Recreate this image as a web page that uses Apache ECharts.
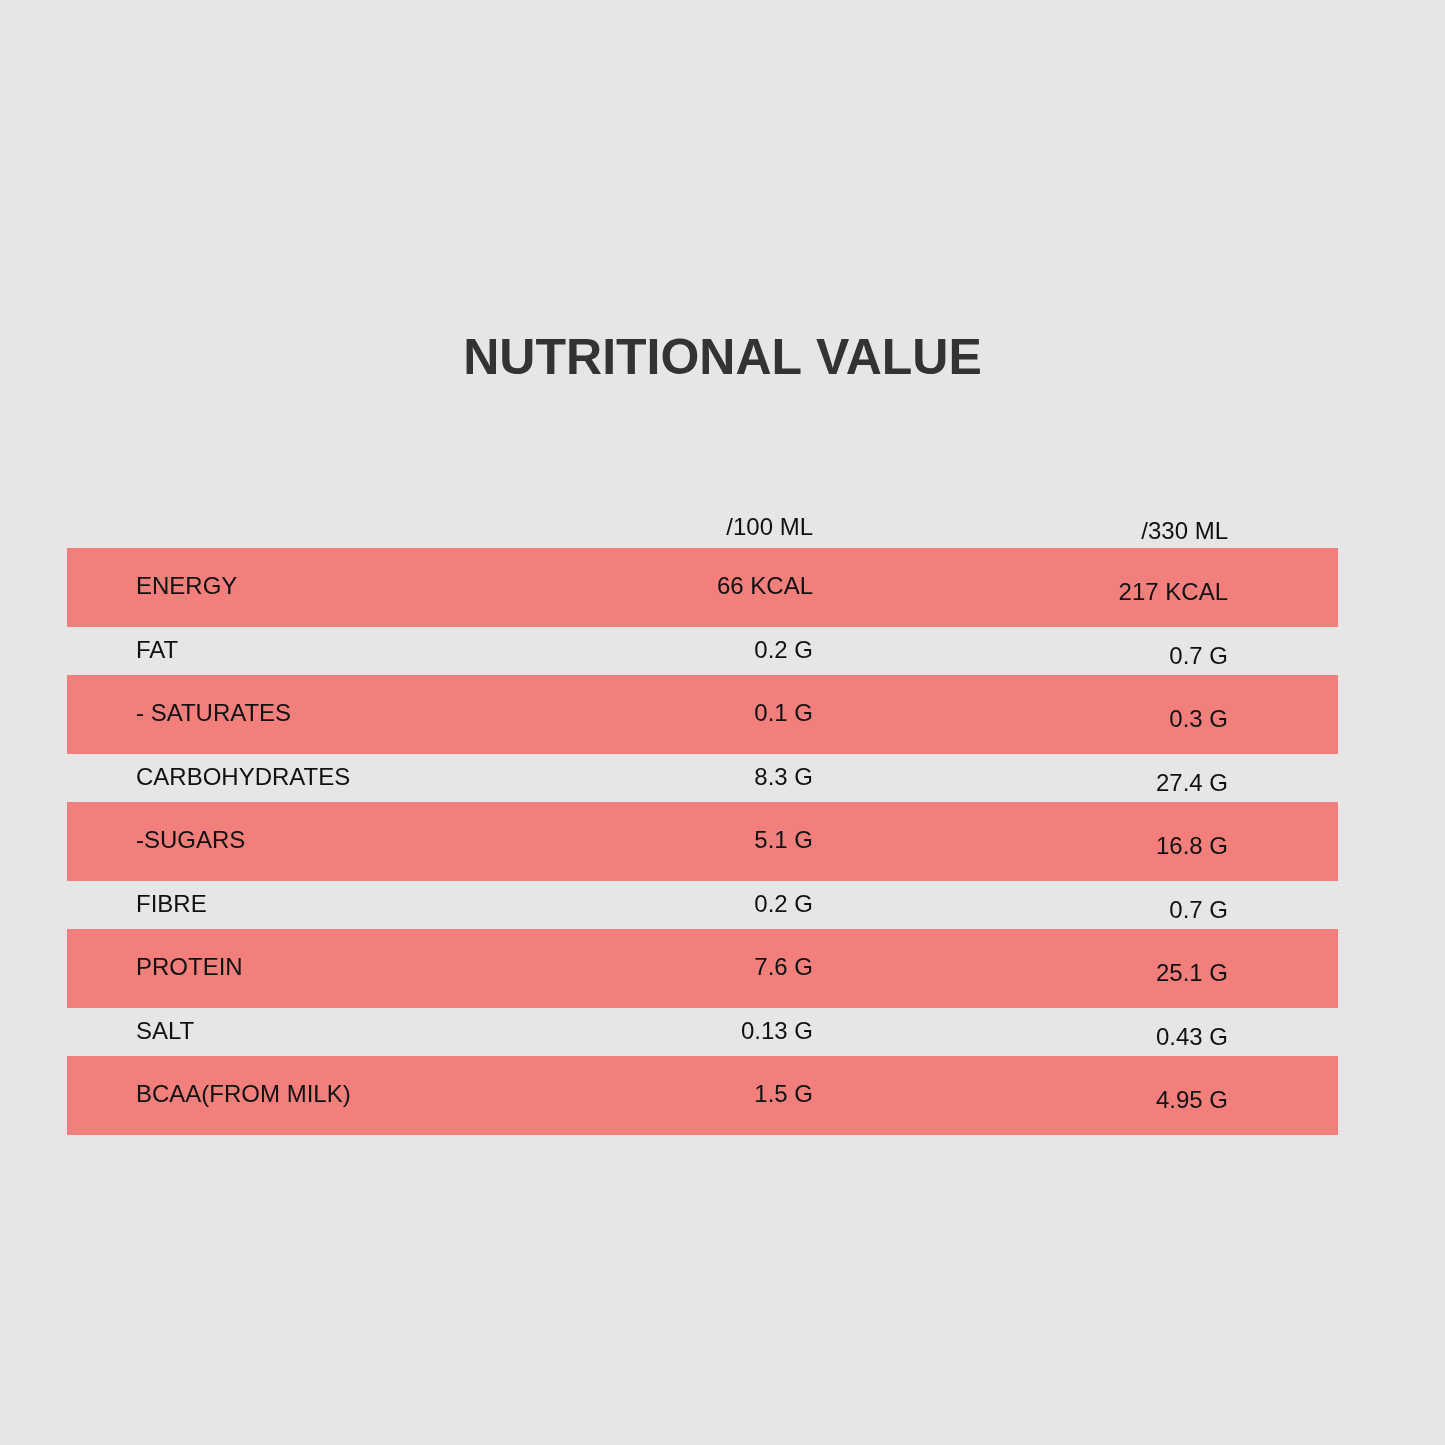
<!DOCTYPE html>
<html>
<head>
<meta charset="utf-8">
<script src="https://cdn.jsdelivr.net/npm/echarts@6/dist/echarts.min.js"></script>
<style>html,body{margin:0;padding:0;background:#e6e6e6}#main{width:1445px;height:1445px}</style>
</head>
<body>
<div id="main"></div>
<script>
var title = 'NUTRITIONAL VALUE';
var headers = ['/100 ML', '/330 ML'];
var nutrients = ['ENERGY', 'FAT', '- SATURATES', 'CARBOHYDRATES', '-SUGARS', 'FIBRE', 'PROTEIN', 'SALT', 'BCAA(FROM MILK)'];
var per100 = ['66 KCAL', '0.2 G', '0.1 G', '8.3 G', '5.1 G', '0.2 G', '7.6 G', '0.13 G', '1.5 G'];
var per330 = ['217 KCAL', '0.7 G', '0.3 G', '27.4 G', '16.8 G', '0.7 G', '25.1 G', '0.43 G', '4.95 G'];

var rows = nutrients.map(function (n, i) { return [i, n, per100[i], per330[i]]; });
var font = '"Liberation Sans", Arial, sans-serif';

function renderItem(params, api) {
    var i = api.value(0);
    var red = i % 2 === 0;
    var top = 548 + Math.floor(i / 2) * 127 + (red ? 0 : 79);
    var h = red ? 79 : 48;
    var cy = top + h / 2;
    var children = [];
    if (red) children.push({type: 'rect', shape: {x: 67, y: top, width: 1271, height: h}, style: {fill: '#f27f7c'}});
    var ts = {font: '24px ' + font, fill: '#111', verticalAlign: 'middle'};
    children.push({type: 'text', style: Object.assign({}, ts, {x: 136, y: cy, text: nutrients[i], align: 'left'})});
    children.push({type: 'text', style: Object.assign({}, ts, {x: 813, y: cy, text: per100[i], align: 'right'})});
    children.push({type: 'text', style: Object.assign({}, ts, {x: 1228, y: cy + 6, text: per330[i], align: 'right'})});
    return {type: 'group', children: children};
}

var chart = echarts.init(document.getElementById('main'));
chart.setOption({
    backgroundColor: '#e6e6e6',
    animation: false,
    title: {
        text: title, left: 'center', top: 330,
        textStyle: {fontFamily: font, fontSize: 50, fontWeight: 'bold', color: '#333'}
    },
    grid: {left: 0, right: 0, top: 0, bottom: 0},
    xAxis: {type: 'value', show: false},
    yAxis: {type: 'value', show: false},
    graphic: [
        {type: 'text', style: {x: 813, y: 528, text: headers[0], align: 'right', verticalAlign: 'middle', font: '24px ' + font, fill: '#111'}},
        {type: 'text', style: {x: 1228, y: 532, text: headers[1], align: 'right', verticalAlign: 'middle', font: '24px ' + font, fill: '#111'}}
    ],
    series: [{type: 'custom', renderItem: renderItem, data: rows, encode: {x: 0, y: 0}}]
});
</script>
</body>
</html>
